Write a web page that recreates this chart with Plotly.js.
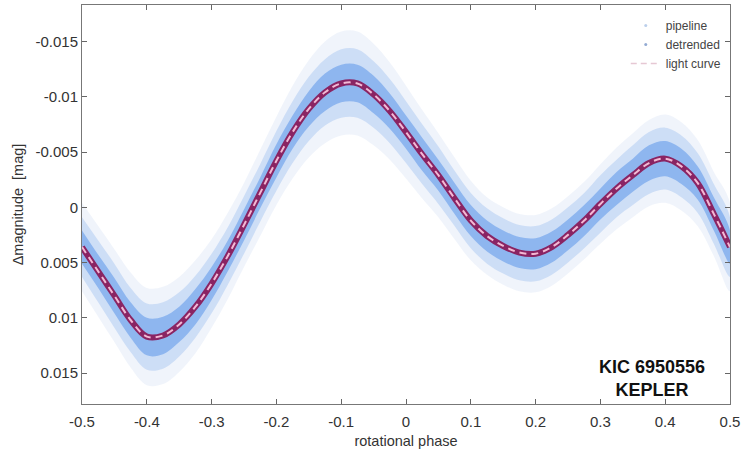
<!DOCTYPE html>
<html>
<head>
<meta charset="utf-8">
<script src="https://cdn.plot.ly/plotly-3.0.1.min.js"></script>
<style>html,body{margin:0;padding:0;background:#fff;}#chart{width:742px;height:455px;}</style>
</head>
<body>
<div id="chart"></div>
<script>
// rotational phase sample points
const phase = [-0.5,-0.475,-0.45,-0.425,-0.4,-0.375,-0.35,-0.325,-0.3,-0.275,-0.25,-0.225,-0.2,-0.175,-0.15,-0.125,-0.1,-0.075,-0.05,-0.025,0,0.025,0.05,0.075,0.1,0.125,0.15,0.175,0.2,0.225,0.25,0.275,0.3,0.325,0.35,0.375,0.4,0.425,0.45,0.475,0.5];
// light curve (delta magnitude, mag)
const lightCurve = [0.0036,0.0058,0.0080,0.0102,0.0117,0.0116,0.0106,0.0090,0.0069,0.0044,0.0016,-0.0013,-0.0042,-0.0068,-0.0089,-0.0104,-0.0112,-0.0112,-0.0102,-0.0087,-0.0068,-0.0048,-0.0029,-0.0008,0.0012,0.0026,0.0035,0.0041,0.0042,0.0036,0.0025,0.0012,-0.0003,-0.0017,-0.0029,-0.0040,-0.0044,-0.0037,-0.0022,0.0006,0.0036];
// half-widths of the scatter clouds (mag)
const pipelineSpread  = [0.0040,0.0041,0.0042,0.0043,0.0044,0.0044,0.0043,0.0042,0.0040,0.0039,0.0038,0.0039,0.0040,0.0042,0.0044,0.0046,0.0047,0.0047,0.0046,0.0044,0.0042,0.0040,0.0038,0.0037,0.0036,0.0035,0.0035,0.0035,0.0035,0.0035,0.0035,0.0035,0.0036,0.0037,0.0038,0.0039,0.0040,0.0040,0.0039,0.0038,0.0040];
const detrendedSpread = [0.0027,0.0028,0.0029,0.0029,0.0030,0.0030,0.0029,0.0028,0.0027,0.0026,0.0026,0.0026,0.0027,0.0028,0.0029,0.0030,0.0031,0.0031,0.0030,0.0029,0.0028,0.0027,0.0026,0.0025,0.0025,0.0025,0.0025,0.0025,0.0025,0.0025,0.0025,0.0025,0.0026,0.0026,0.0027,0.0028,0.0028,0.0028,0.0027,0.0027,0.0027];
const coreSpread      = [0.0015,0.0015,0.0016,0.0016,0.0017,0.0017,0.0016,0.0016,0.0015,0.0014,0.0014,0.0014,0.0015,0.0015,0.0016,0.0017,0.0017,0.0017,0.0017,0.0016,0.0015,0.0015,0.0014,0.0014,0.0014,0.0014,0.0014,0.0014,0.0014,0.0014,0.0014,0.0014,0.0014,0.0015,0.0015,0.0016,0.0016,0.0016,0.0015,0.0015,0.0015];

const xTickVals = [-0.5,-0.4,-0.3,-0.2,-0.1,0,0.1,0.2,0.3,0.4,0.5];
const xTickText = ['-0.5','-0.4','-0.3','-0.2','-0.1','0','0.1','0.2','0.3','0.4','0.5'];
const yTickVals = [-0.015,-0.01,-0.005,0,0.005,0.01,0.015];
const yTickText = ['-0.015','-0.01','-0.005','0','0.005','0.01','0.015'];

function band(spread, color) {
  const up = lightCurve.map((v,i)=>v - spread[i]);
  const lo = lightCurve.map((v,i)=>v + spread[i]);
  return {
    x: phase.concat(phase.slice().reverse()),
    y: up.concat(lo.slice().reverse()),
    type: 'scatter', mode: 'lines', fill: 'toself',
    fillcolor: color, line: {width: 0, shape: 'spline', smoothing: 1},
    showlegend: false, hoverinfo: 'skip'
  };
}

const traces = [
  band(pipelineSpread, 'rgba(185,205,238,0.22)'),
  band(detrendedSpread, 'rgba(140,180,238,0.35)'),
  band(coreSpread, 'rgba(100,155,235,0.6)'),
  {x: phase, y: lightCurve, type:'scatter', mode:'lines',
   line:{color:'#8a2463', width:6, shape:'spline', smoothing:1}, showlegend:false, hoverinfo:'skip'},
  {x: phase, y: lightCurve, type:'scatter', mode:'lines', name:'light curve',
   line:{color:'#f3b8d4', width:2, dash:'7px,5px', shape:'spline', smoothing:1}, showlegend:false},
  {x:[null], y:[null], type:'scatter', mode:'markers', name:'pipeline',
   marker:{color:'rgba(170,195,230,0.8)', size:3}},
  {x:[null], y:[null], type:'scatter', mode:'markers', name:'detrended',
   marker:{color:'rgba(120,150,200,0.8)', size:3}},
  {x:[null], y:[null], type:'scatter', mode:'lines', name:'light curve',
   line:{color:'#e6c8d4', width:1.5, dash:'6px,4px'}}
];

const layout = {
  width: 742, height: 455,
  margin: {l: 82, r: 12, t: 5, b: 51},
  paper_bgcolor: '#fff', plot_bgcolor: '#fff',
  font: {family: 'Liberation Sans, Arial, sans-serif', size: 13, color: '#333'},
  showlegend: true,
  legend: {x: 0.995, y: 0.985, xanchor: 'right', yanchor: 'top', bgcolor: 'rgba(0,0,0,0)',
           font: {size: 12, color: '#444'}, tracegroupgap: 0, itemwidth: 30},
  xaxis: {range: [-0.5, 0.5], tickvals: xTickVals, ticktext: xTickText,
          ticks: 'inside', ticklen: 5, tickcolor: '#666', showgrid: false, zeroline: false,
          showline: true, linecolor: '#777', linewidth: 1, mirror: 'ticks',
          tickfont: {size: 15, color: '#333'}, ticklabelstandoff: 4,
          title: {text: 'rotational phase', font: {size: 14.5, color: '#333'}, standoff: 6}},
  yaxis: {range: [0.0178, -0.0183], tickvals: yTickVals, ticktext: yTickText,
          ticks: 'inside', ticklen: 5, tickcolor: '#666', showgrid: false, zeroline: false,
          showline: true, linecolor: '#777', linewidth: 1, mirror: 'ticks',
          tickfont: {size: 15, color: '#333'},
          title: {text: 'Δmagnitude  [mag]', font: {size: 14.5, color: '#333'}, standoff: 8}},
  annotations: [
    {xref:'paper', yref:'paper', x: 0.88, y: 0.063, xanchor:'center', yanchor:'middle',
     text: '<b>KIC 6950556</b><br><b>KEPLER</b>', showarrow: false,
     font: {size: 18, color: '#111', family: 'Liberation Sans, Arial, sans-serif'}}
  ]
};

Plotly.newPlot('chart', traces, layout, {displayModeBar: false, staticPlot: true});
</script>
</body>
</html>
